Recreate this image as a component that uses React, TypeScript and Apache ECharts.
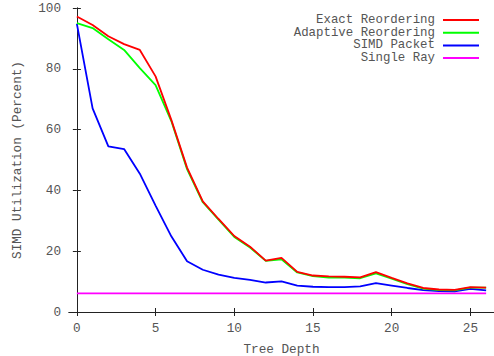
import React, { useEffect, useRef } from "react";
import * as echarts from "echarts";

const depths = [0, 1, 2, 3, 4, 5, 6, 7, 8, 9, 10, 11, 12, 13, 14, 15, 16, 17, 18, 19, 20, 21, 22, 23, 24, 25, 26];
const exactReordering = [97.2, 94.4, 90.7, 88.1, 86.2, 77.5, 63.2, 47.5, 36.4, 30.6, 25.0, 21.5, 16.9, 17.8, 13.2, 12.0, 11.7, 11.6, 11.4, 13.1, 11.2, 9.4, 7.9, 7.4, 7.3, 8.2, 8.0];
const adaptiveReordering = [95.0, 93.4, 89.7, 86.2, 80.2, 74.6, 62.8, 47.0, 36.1, 30.4, 24.7, 21.2, 16.8, 17.3, 13.0, 11.8, 11.3, 11.3, 11.1, 12.7, 11.0, 9.2, 7.7, 7.2, 7.1, 8.0, 8.0];
const simdPacket = [94.8, 67.0, 54.5, 53.6, 45.5, 35.0, 24.9, 16.7, 13.9, 12.3, 11.2, 10.6, 9.7, 10.1, 8.7, 8.3, 8.2, 8.2, 8.4, 9.5, 8.7, 7.9, 7.2, 6.9, 6.8, 7.6, 7.1];
const singleRay = [6.1, 6.1, 6.1, 6.1, 6.1, 6.1, 6.1, 6.1, 6.1, 6.1, 6.1, 6.1, 6.1, 6.1, 6.1, 6.1, 6.1, 6.1, 6.1, 6.1, 6.1, 6.1, 6.1, 6.1, 6.1, 6.1, 6.1];
const xTicks = [0, 5, 10, 15, 20, 25];
const seriesNames = ["Exact Reordering", "Adaptive Reordering", "SIMD Packet", "Single Ray"];
const seriesColors = ["#ff0000", "#00ff00", "#0000ff", "#ff00ff"];

const FONT = "Liberation Mono";
const TEXT = "#555555";
const AXIS = "#222222";

export default function App() {
  const ref = useRef<HTMLDivElement>(null);
  useEffect(() => {
    if (!ref.current) return;
    const chart = echarts.init(ref.current, undefined, { renderer: "svg" });
    const values = [exactReordering, adaptiveReordering, simdPacket, singleRay];
    const legendTops = [14, 26.7, 39.4, 52.1];
    const tickStyle = { show: true, inside: true, length: 4, lineStyle: { color: AXIS, width: 1 } };
    chart.setOption({
      animation: false,
      backgroundColor: "#ffffff",
      textStyle: { fontFamily: FONT },
      grid: { left: 69, top: 8, right: 0, bottom: 44, containLabel: false, outerBoundsMode: "none" },
      legend: seriesNames.map((name, i) => ({
        data: [name],
        right: 15,
        top: legendTops[i],
        orient: "vertical",
        align: "right",
        padding: 0,
        icon: "rect",
        itemWidth: 36,
        itemHeight: 2,
        selectedMode: false,
        textStyle: { fontFamily: FONT, fontSize: 12.4, lineHeight: 12, color: TEXT, padding: [0, 3, 0, 0] },
      })),
      xAxis: [
        {
          type: "value",
          min: -0.5,
          max: 26.5,
          position: "bottom",
          name: "Tree Depth",
          nameLocation: "middle",
          nameGap: 31,
          nameTextStyle: { fontFamily: FONT, fontSize: 12.7, color: TEXT },
          axisLine: { show: true, lineStyle: { color: AXIS, width: 1 } },
          axisTick: { ...tickStyle, customValues: xTicks },
          axisLabel: { customValues: xTicks, fontFamily: FONT, fontSize: 12.7, color: TEXT, margin: 10 },
          splitLine: { show: false },
        },
        {
          type: "value",
          min: -0.5,
          max: 26.5,
          position: "top",
          axisLine: { show: true, lineStyle: { color: AXIS, width: 1 } },
          axisTick: { ...tickStyle, customValues: xTicks },
          axisLabel: { show: false },
          splitLine: { show: false },
        },
      ],
      yAxis: [
        {
          type: "value",
          min: 0,
          max: 100,
          interval: 20,
          position: "left",
          name: "SIMD Utilization (Percent)",
          nameLocation: "middle",
          nameGap: 45,
          nameTextStyle: { fontFamily: FONT, fontSize: 12.7, color: TEXT },
          axisLine: { show: true, lineStyle: { color: AXIS, width: 1 } },
          axisTick: tickStyle,
          axisLabel: { fontFamily: FONT, fontSize: 12.7, color: TEXT, margin: 8 },
          splitLine: { show: false },
        },
        {
          type: "value",
          min: 0,
          max: 100,
          interval: 20,
          position: "right",
          axisLine: { show: true, lineStyle: { color: AXIS, width: 1 } },
          axisTick: tickStyle,
          axisLabel: { show: false },
          splitLine: { show: false },
        },
      ],
      series: seriesNames.map((name, i) => ({
        name,
        type: "line",
        xAxisIndex: 0,
        yAxisIndex: 0,
        symbol: "none",
        color: seriesColors[i],
        lineStyle: { color: seriesColors[i], width: 1.8 },
        data: depths.map((d, j) => [d, values[i][j]]),
        z: 10 - i,
      })),
    });
    return () => chart.dispose();
  }, []);
  return (
    <div
      ref={ref}
      style={{ position: "fixed", left: 0, top: 0, width: 494, height: 356, background: "#fff" }}
    />
  );
}
